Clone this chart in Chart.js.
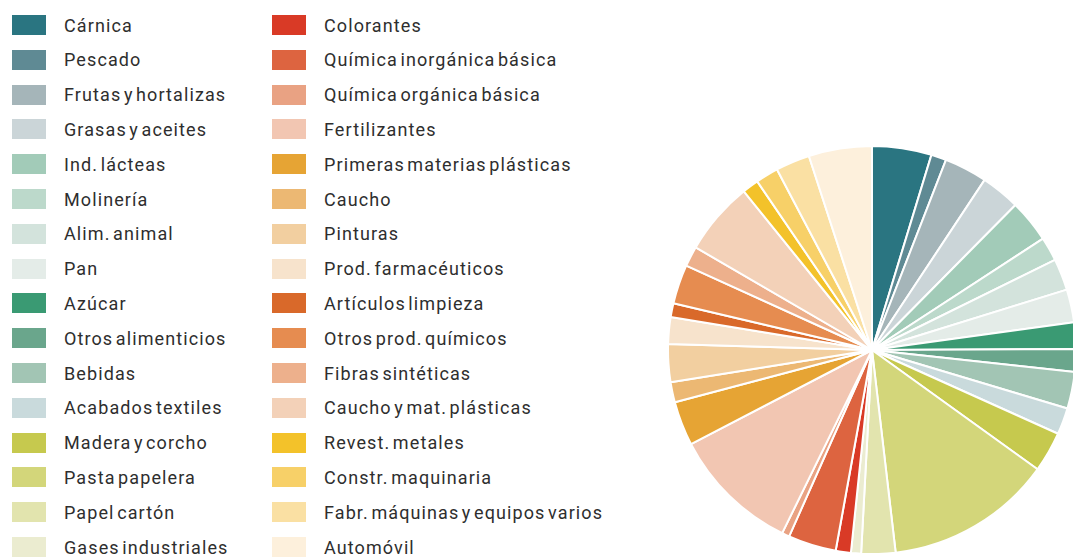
<!DOCTYPE html>
<html lang="es">
<head>
<meta charset="utf-8">
<title>Sectores</title>
<script src="https://cdn.jsdelivr.net/npm/chart.js@4/dist/chart.umd.min.js"></script>
<style>
    html, body {
        margin: 0;
        padding: 0;
        background: #ffffff;
        width: 1073px;
        height: 558px;
        overflow: hidden;
        position: relative;
        font-family: Roboto, "DejaVu Sans Condensed", sans-serif;
    }
    #legend {
        position: absolute;
        left: 0;
        top: 0;
    }
    .item {
        position: absolute;
        height: 20px;
        display: flex;
        align-items: center;
        white-space: nowrap;
    }
    .swatch {
        width: 34px;
        height: 20px;
        flex: none;
    }
    .label {
        margin-left: 18px;
        font-size: 18px;
        letter-spacing: 1.1px;
        word-spacing: -3px;
        color: #2e2e2e;
    }
    #pieBox {
        position: absolute;
        left: 667px;
        top: 145px;
        width: 410px;
        height: 410px;
    }
</style>
</head>
<body>
<div id="legend"></div>
<div id="pieBox"><canvas id="pie" width="410" height="410"></canvas></div>

<script>
// Sectores (en el orden de la tarta, en sentido horario desde las 12)
const sectores = [
    'Cárnica', 'Pescado', 'Frutas y hortalizas', 'Grasas y aceites',
    'Ind. lácteas', 'Molinería', 'Alim. animal', 'Pan',
    'Azúcar', 'Otros alimenticios', 'Bebidas', 'Acabados textiles',
    'Madera y corcho', 'Pasta papelera', 'Papel cartón', 'Gases industriales',
    'Colorantes', 'Química inorgánica básica', 'Química orgánica básica', 'Fertilizantes',
    'Primeras materias plásticas', 'Caucho', 'Pinturas', 'Prod. farmacéuticos',
    'Artículos limpieza', 'Otros prod. químicos', 'Fibras sintéticas', 'Caucho y mat. plásticas',
    'Revest. metales', 'Constr. maquinaria', 'Fabr. máquinas y equipos varios', 'Automóvil'
];

// Peso de cada sector (%)
const pesos = [
    4.7, 1.2, 3.4, 3.1,
    3.4, 1.9, 2.5, 2.6,
    2.1, 1.8, 2.9, 2.1,
    3.2, 13.2, 2.7, 0.8,
    1.2, 3.8, 0.6, 10.1,
    3.5, 1.6, 3.0, 2.1,
    1.1, 3.1, 1.6, 5.8,
    1.3, 1.8, 2.7, 5.0
];

const colores = [
    '#2a7581', '#5f8a94', '#a5b5b9', '#cbd5d8',
    '#a2cbb8', '#bcd9cb', '#d3e3dc', '#e4ece8',
    '#3a9a73', '#6aa68c', '#a2c5b4', '#c9dadc',
    '#c6c94e', '#d3d67a', '#e2e4ae', '#ebecd0',
    '#d93a26', '#dd6440', '#e9a283', '#f2c6b2',
    '#e6a434', '#ecb873', '#f2cfa0', '#f7e3cc',
    '#d9692a', '#e68c50', '#edb08c', '#f3d1b8',
    '#f3c22a', '#f7d068', '#fae0a3', '#fdf0dc'
];

/** Leyenda en dos columnas de 16 elementos */
const buildLegend = () => {
    const legend = document.getElementById('legend');
    const perColumn = 16;
    const rowStep = 34.8;
    const columnX = [12, 272];

    sectores.forEach((name, i) => {
        let col = Math.floor(i / perColumn);
        let row = i % perColumn;

        let item = document.createElement('div');
        item.className = 'item';
        item.style.left = columnX[col] + 'px';
        item.style.top = (15 + row * rowStep) + 'px';

        let swatch = document.createElement('span');
        swatch.className = 'swatch';
        swatch.style.background = colores[i];

        let label = document.createElement('span');
        label.className = 'label';
        label.textContent = name;

        item.appendChild(swatch);
        item.appendChild(label);
        legend.appendChild(item);
    });
};

buildLegend();

new Chart(document.getElementById('pie'), {
    type: 'pie',
    data: {
        labels: sectores,
        datasets: [{
            data: pesos,
            backgroundColor: colores,
            borderColor: '#ffffff',
            borderWidth: 2,
        }],
    },
    options: {
        responsive: false,
        animation: false,
        layout: {
            padding: 0,
        },
        plugins: {
            legend: {
                display: false,
            },
            tooltip: {
                enabled: false,
            },
        },
    },
});
</script>
</body>
</html>
